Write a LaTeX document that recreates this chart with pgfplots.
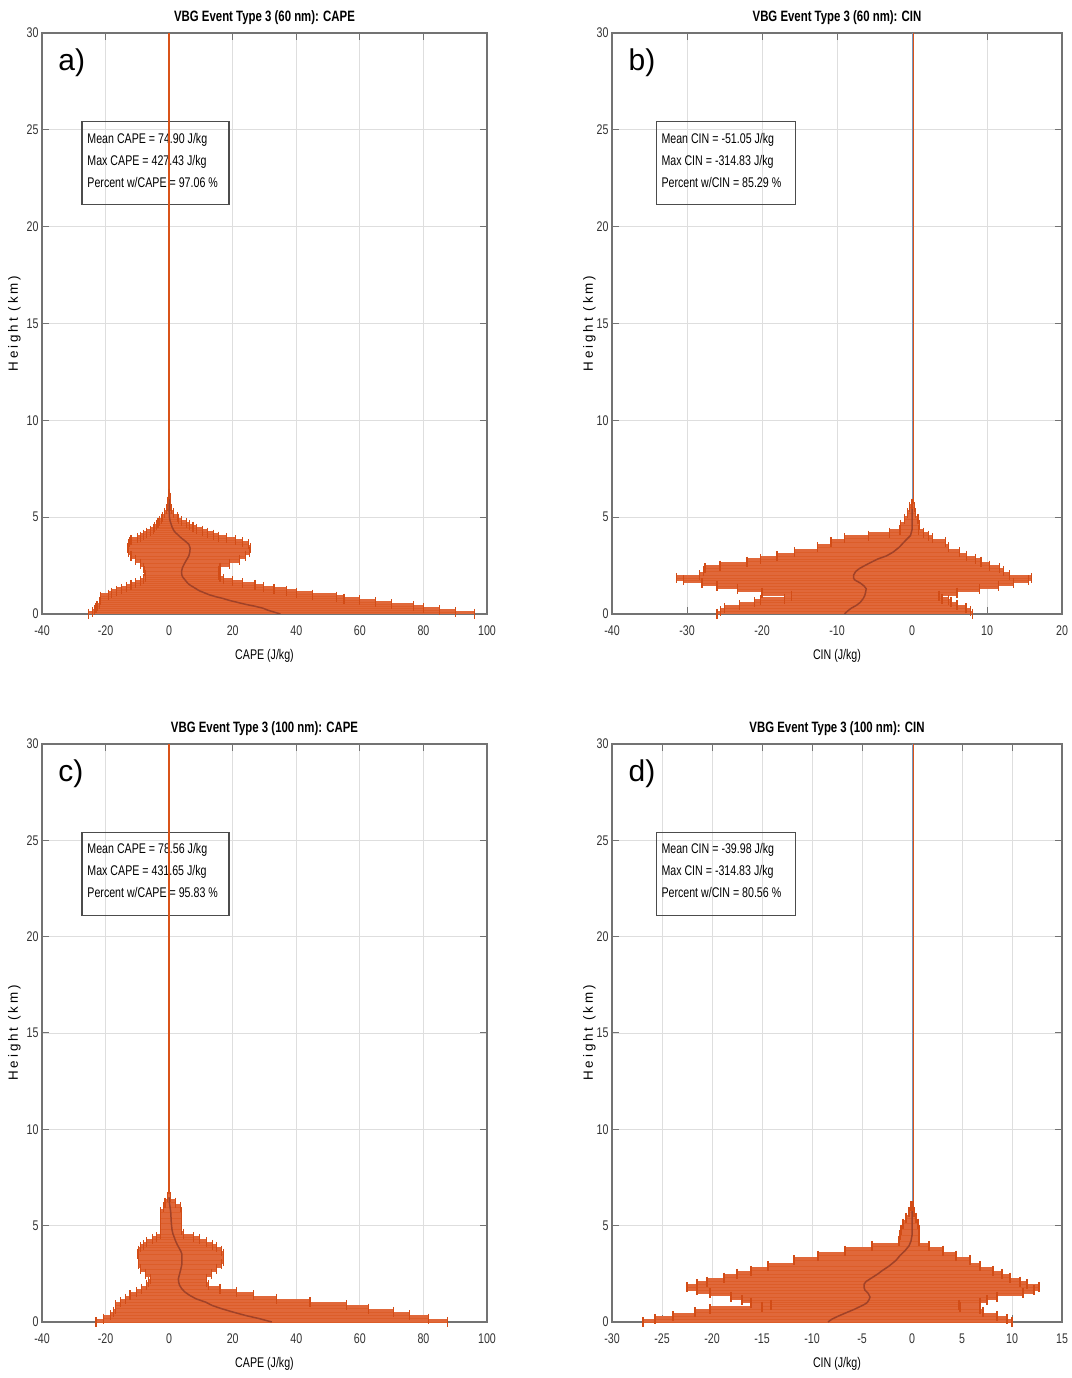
\documentclass[border=0pt]{standalone}
\usepackage{pgfplots}
\pgfplotsset{compat=1.18}
\usepackage{pgfplotstable}
\usepackage{fontspec}
\setmainfont{Liberation Sans}[FakeStretch=0.76]
\newfontfamily\ylfont{Liberation Sans}[LetterSpace=22]
\newfontfamily\plfont{Liberation Sans}
\definecolor{fillor}{RGB}{224,104,58}
\definecolor{baror}{RGB}{217,83,25}
\definecolor{capor}{RGB}{210,76,22}
\definecolor{meanc}{RGB}{160,66,40}
\definecolor{mblue}{RGB}{120,150,185}

% h = height (km), m = mean, lo = mean - std, hi = mean + std
\pgfplotstableread{
h m lo hi
0.0 35 -25.3 96
0.1 33 -24 90
0.2 31 -23.5 85
0.3 29.5 -23 80
0.4 27 -22.7 76.8
0.5 24 -22 70
0.6 21.5 -21.8 65
0.7 19 -21.7 60
0.8 17 -21.7 55
0.9 14.5 -21.7 52.7
1.0 12.5 -19 45
1.1 11 -18 40
1.2 9.5 -16.5 37
1.3 8.5 -15 33
1.4 7.5 -13.5 29.6
1.5 6.5 -12 27
1.6 5.8 -10.5 23
1.7 5.3 -9 20
1.8 4.8 -8 17
1.9 4.3 -7.5 16
2.0 4.0 -7.5 15.5
2.2 3.9 -7.8 15.5
2.4 4.2 -8 16
2.6 4.8 -9 19
2.8 5.5 -10.5 22
3.0 6.2 -12 24
3.2 6.5 -12.8 25.4
3.4 6.6 -13 25.6
3.6 6.2 -12.8 25
3.7 5.5 -12.5 23
3.8 4.8 -12 21
3.9 4.0 -10 18
4.0 3.3 -9 15.5
4.1 2.7 -8 14
4.2 2.0 -7 12
4.3 1.5 -6 10.5
4.4 1.2 -5 8.5
4.5 0.9 -4.5 7.5
4.6 0.7 -4 6.5
4.7 0.5 -3.5 5.5
4.8 0.3 -3 4
4.9 0.2 -2.5 3
5.0 0.1 -2 2.5
5.2 0.05 -1.5 1.5
5.4 0 -0.8 0.8
5.6 0 -0.5 0.5
5.8 0 -0.4 0.4
6.0 0 -0.3 0.3
6.2 0 -0.1 0.1
}\dA

\pgfplotstableread{
h m lo hi
0.0 -9 -26 8.1
0.15 -8.6 -25.5 7.8
0.3 -8.1 -25 7.2
0.45 -7.4 -23 6
0.6 -6.9 -21 5.2
0.7 -6.7 -20.2 4.9
0.8 -6.5 -17 4.0
0.95 -6.3 -16.1 3.6
1.1 -6.2 -20 6
1.3 -6.1 -23.3 9
1.45 -6.4 -26 11.5
1.6 -6.9 -28 13.5
1.75 -7.6 -30.5 15.5
1.85 -7.8 -31.4 15.9
2.0 -7.8 -28.3 13
2.2 -7.5 -27.8 12.2
2.35 -7.0 -27.6 11.7
2.5 -6.3 -25.6 10.3
2.7 -5.3 -22 9.2
2.85 -4.5 -20.2 8.5
3.0 -3.4 -18 7.3
3.2 -2.5 -15.7 6.3
3.45 -1.7 -12.6 4.9
3.7 -1.1 -10.8 4.5
3.9 -0.6 -9 2.7
4.05 -0.2 -5.8 2.2
4.2 -0.1 -3 1.5
4.35 0 -1.6 0.9
4.6 0 -1.5 1.0
4.9 0 -1.0 0.8
5.2 0 -0.6 0.5
5.5 0 -0.3 0.3
5.7 0 -0.1 0.1
}\dB

\pgfplotstableread{
h m lo hi
0.0 32.3 -23 87.7
0.17 28.5 -20.6 81.5
0.34 24 -18.5 75.7
0.52 20 -17.5 70.5
0.69 16.5 -17 62.6
0.86 13.5 -17 55.8
1.03 11.5 -15.4 44.3
1.2 8.5 -13.8 33.8
1.38 6.5 -12.3 26.5
1.55 5 -10.2 21.3
1.72 4 -8.6 16
1.9 3.3 -7 12.4
2.07 3.0 -6.5 11.8
2.24 2.9 -6 11.8
2.5 3.3 -7.5 13.4
2.76 3.7 -9.1 15
3.0 4 -9.5 16.5
3.19 4 -9.6 17.1
3.53 4 -9.9 17.1
3.7 3.6 -9.6 16.5
3.88 3.0 -9.1 15
4.0 2.6 -8.2 13.5
4.14 2.2 -7 11.8
4.3 1.8 -5.2 9.5
4.4 1.6 -3.9 7.6
4.57 1.2 -2.8 4.5
4.8 0.9 -2.8 4
5.1 0.7 -2.8 4
5.4 0.6 -2.8 4
5.7 0.5 -2.8 4
5.95 0.3 -1.8 3.5
6.2 0.1 -1.3 1.9
6.47 0 -0.5 0.5
}\dC

\pgfplotstableread{
h m lo hi
0.0 -8.4 -26.9 10
0.15 -8.0 -25.7 9.5
0.3 -7.4 -23.9 8.5
0.5 -6.5 -21.7 7.1
0.65 -5.8 -20.2 6.8
0.8 -5.2 -15 4.8
0.9 -4.8 -14.1 4.7
1.0 -4.5 -16.1 6.8
1.15 -4.3 -17 7.5
1.3 -4.2 -18.1 8.5
1.5 -4.4 -20.2 11.1
1.65 -4.7 -21.5 12.2
1.8 -4.8 -22.5 12.7
1.95 -4.8 -21.5 11.5
2.1 -4.6 -20.5 10.8
2.3 -4.0 -18.8 9.8
2.5 -3.4 -17.5 9
2.66 -3.0 -16.1 8.1
2.9 -2.3 -14.4 6.8
3.2 -1.6 -11.8 5.8
3.45 -1.2 -9.4 4.4
3.7 -0.7 -6.7 3.1
3.95 -0.3 -4 1.7
4.2 -0.1 -1.3 0.7
4.5 0 -1.2 0.7
4.8 0 -1.1 0.7
5.1 0 -0.9 0.6
5.4 0 -0.6 0.4
5.7 0 -0.3 0.2
6.0 0 -0.1 0.1
}\dD

\pgfplotsset{
  panel/.style={
    scale only axis,
    ymin=0, ymax=30, ytick={0,5,...,30},
    axis line style={draw=black!55, line width=0.7pt},
    grid=major, grid style={draw=black!13, line width=0.4pt},
    tick style={draw=black!55, line width=0.5pt},
    major tick length=3.5pt, tick align=inside,
    ticklabel style={font=\fontsize{7}{8}\selectfont, text=black!80},
    /pgf/number format/assume math mode=true,
    xticklabel style={yshift=-2.5pt},
    yticklabel style={xshift=1.8pt},
    title style={font=\bfseries\fontsize{7.5}{9}\selectfont, yshift=-5.5pt},
    xlabel style={font=\fontsize{7}{8}\selectfont, at={(axis description cs:0.5,0)}, anchor=center, yshift=-21pt},
    ylabel style={font=\ylfont\fontsize{6.7}{8}\selectfont, anchor=center},
    ylabel={Height (km)},
  },
  thickbar/.style={draw=none, mark=none, forget plot,
    error bars/.cd, x dir=both, x explicit, error mark=none,
    error bar style={draw=fillor, line width=3.3pt, line cap=butt}},
  thinbar/.style={draw=none, mark=none, forget plot,
    error bars/.cd, x dir=both, x explicit, error mark=none,
    error bar style={draw=baror, line width=0.3pt, opacity=0.5}},
  caps/.style={only marks, mark=|, mark size=2.5pt, forget plot,
    mark options={draw=capor, line width=0.55pt}},
}
\newcommand{\profile}[1]{%
  \addplot[thickbar] table[x=m, y=h, x error plus expr=\thisrow{hi}-\thisrow{m}, x error minus expr=\thisrow{m}-\thisrow{lo}] {#1};
  \addplot[thinbar] table[x=m, y=h, x error plus expr=\thisrow{hi}-\thisrow{m}, x error minus expr=\thisrow{m}-\thisrow{lo}] {#1};
  \addplot[caps] table[x=lo, y=h] {#1};
  \addplot[caps] table[x=hi, y=h] {#1};
  \addplot[meanc, line width=0.75pt, forget plot] table[x=m,y=h]{#1};
}
\newcommand{\infobox}[5]{%
  \draw[black!70, line width=0.6pt] (rel axis cs:#1,0.847) rectangle ([xshift=#2, yshift=-41.5pt]rel axis cs:#1,0.847);
  \node[anchor=north west, align=left, inner sep=0pt, font=\fontsize{7}{11}\selectfont] at ([xshift=2.5pt,yshift=-5.5pt]rel axis cs:#1,0.847) {#3\\#4\\#5};
}

\begin{document}
\begin{tikzpicture}
\useasboundingbox (0,0) rectangle (536pt,689pt);

% ---------- a ----------
\begin{axis}[panel, at={(21pt,382pt)}, anchor=south west, width=222.5pt, height=290.5pt,
  xmin=-40, xmax=100, xtick={-40,-20,...,100},
  title={VBG Event Type 3 (60 nm): CAPE}, xlabel={CAPE (J/kg)},
  ylabel style={at={(axis description cs:-0.062,0.5)}}]
\infobox{0.09}{73.5pt}{Mean CAPE = 74.90 J/kg}{Max CAPE = 427.43 J/kg}{Percent w/CAPE = 97.06 \%}
\addplot[baror, line width=0.7pt, forget plot] coordinates {(0,0) (0,30)};
\profile{\dA}
\node[anchor=north west, inner sep=0pt, font=\plfont\fontsize{15}{16}\selectfont] at (rel axis cs:0.036,0.974) {a)};
\end{axis}

% ---------- b ----------
\begin{axis}[panel, at={(306pt,382pt)}, anchor=south west, width=225pt, height=290.5pt,
  xmin=-40, xmax=20, xtick={-40,-30,...,20},
  title={VBG Event Type 3 (60 nm): CIN}, xlabel={CIN (J/kg)},
  ylabel style={at={(axis description cs:-0.05,0.5)}}]
\infobox{0.098}{69.5pt}{Mean CIN = -51.05 J/kg}{Max CIN = -314.83 J/kg}{Percent w/CIN = 85.29 \%}
\addplot[mblue, line width=0.5pt, forget plot] coordinates {(0,0) (0,30)};
\addplot[baror, line width=0.35pt, forget plot] coordinates {(0.14,0) (0.14,30)};
\profile{\dB}
\node[anchor=north west, inner sep=0pt, font=\plfont\fontsize{15}{16}\selectfont] at (rel axis cs:0.036,0.974) {b)};
\end{axis}

% ---------- c ----------
\begin{axis}[panel, at={(21pt,28pt)}, anchor=south west, width=222.5pt, height=289pt,
  xmin=-40, xmax=100, xtick={-40,-20,...,100},
  title={VBG Event Type 3 (100 nm): CAPE}, xlabel={CAPE (J/kg)},
  ylabel style={at={(axis description cs:-0.062,0.5)}}]
\infobox{0.09}{73.5pt}{Mean CAPE = 78.56 J/kg}{Max CAPE = 431.65 J/kg}{Percent w/CAPE = 95.83 \%}
\addplot[baror, line width=0.7pt, forget plot] coordinates {(0,0) (0,30)};
\profile{\dC}
\node[anchor=north west, inner sep=0pt, font=\plfont\fontsize{15}{16}\selectfont] at (rel axis cs:0.036,0.974) {c)};
\end{axis}

% ---------- d ----------
\begin{axis}[panel, at={(306pt,28pt)}, anchor=south west, width=225pt, height=289pt,
  xmin=-30, xmax=15, xtick={-30,-25,...,15},
  title={VBG Event Type 3 (100 nm): CIN}, xlabel={CIN (J/kg)},
  ylabel style={at={(axis description cs:-0.05,0.5)}}]
\infobox{0.098}{69.5pt}{Mean CIN = -39.98 J/kg}{Max CIN = -314.83 J/kg}{Percent w/CIN = 80.56 \%}
\addplot[mblue, line width=0.5pt, forget plot] coordinates {(0,0) (0,30)};
\addplot[baror, line width=0.35pt, forget plot] coordinates {(0.1,0) (0.1,30)};
\profile{\dD}
\node[anchor=north west, inner sep=0pt, font=\plfont\fontsize{15}{16}\selectfont] at (rel axis cs:0.036,0.974) {d)};
\end{axis}
\end{tikzpicture}
\end{document}
